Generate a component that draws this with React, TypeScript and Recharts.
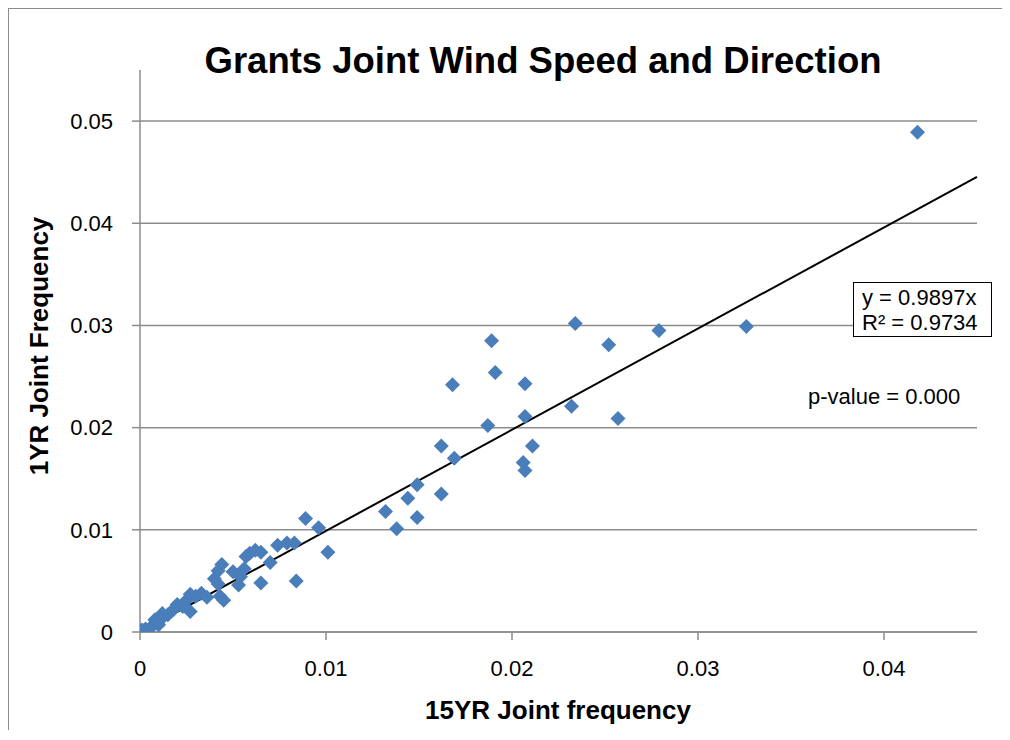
import {
  ScatterChart,
  Scatter,
  XAxis,
  YAxis,
  CartesianGrid,
  ReferenceLine,
} from "recharts";

// 15YR joint frequency (x) vs 1YR joint frequency (y)
const freq15yr = [
  0.0418, 0.0326, 0.0279, 0.0252, 0.0234, 0.0257, 0.0232, 0.0189, 0.0191, 0.0207,
  0.0168, 0.0207, 0.0211, 0.0187, 0.0206, 0.0207, 0.0162, 0.0169, 0.0162, 0.0149,
  0.0144, 0.0132, 0.0149, 0.0138, 0.0089, 0.0096, 0.0101, 0.0084, 0.0083, 0.0079,
  0.0074, 0.0070, 0.0065, 0.0065, 0.0062, 0.0059, 0.0057, 0.0056, 0.0053, 0.0050,
  0.0054, 0.0045, 0.0044, 0.0042, 0.0040, 0.0042, 0.0043, 0.0036, 0.0033, 0.0030,
  0.0027, 0.0025, 0.0027, 0.0023, 0.0020, 0.0018, 0.0015, 0.0012, 0.0011, 0.0010,
  0.0008, 0.0006, 0.0005, 0.0003, 0.0002, 0.0000, 0.0001,
];

const freq1yr = [
  0.0489, 0.0299, 0.0295, 0.0281, 0.0302, 0.0209, 0.0221, 0.0285, 0.0254, 0.0243,
  0.0242, 0.0211, 0.0182, 0.0202, 0.0166, 0.0158, 0.0182, 0.0170, 0.0135, 0.0144,
  0.0131, 0.0118, 0.0112, 0.0101, 0.0111, 0.0102, 0.0078, 0.0050, 0.0087, 0.0087,
  0.0085, 0.0068, 0.0048, 0.0078, 0.0080, 0.0077, 0.0074, 0.0062, 0.0046, 0.0059,
  0.0054, 0.0031, 0.0066, 0.0060, 0.0052, 0.0047, 0.0035, 0.0034, 0.0038, 0.0035,
  0.0037, 0.0031, 0.0020, 0.0025, 0.0027, 0.0022, 0.0017, 0.0018, 0.0012, 0.0007,
  0.0012, 0.0005, 0.0003, 0.0003, 0.0001, 0.0000, 0.0002,
];

const xTicks = [0, 0.01, 0.02, 0.03, 0.04];
const yTicks = [0, 0.01, 0.02, 0.03, 0.04, 0.05];

const slope = 0.9897;
const rSquared = 0.9734;

const data = freq15yr.map((x, i) => ({ x, y: freq1yr[i] }));

const FONT = "'Liberation Sans', Arial, sans-serif";
const GRAY = "#8c8c8c";
const BLUE = "#4A7EBB";

const Diamond = (props: any) => {
  const { cx, cy } = props;
  const r = 7.5;
  return (
    <polygon
      points={`${cx},${cy - r} ${cx + r},${cy} ${cx},${cy + r} ${cx - r},${cy}`}
      fill={BLUE}
    />
  );
};

// gridlines only at the tick values (none at the top edge of the plot)
const gridRows = (props: any) => {
  const scale = props?.yAxis?.scale;
  if (!scale) return [];
  const fn = typeof scale === "function" ? scale : scale.map ?? scale.scale;
  return yTicks.map((t) => fn(t));
};

export default function App() {
  return (
    <div
      style={{
        position: "relative",
        width: 1000,
        height: 722,
        overflow: "hidden",
        background: "#fff",
        fontFamily: FONT,
      }}
    >
      {/* outer chart frame, only left and top edges are in view */}
      <div
        style={{
          position: "absolute",
          left: 0,
          top: 0,
          width: 1000,
          height: 722,
          borderLeft: `1.5px solid ${GRAY}`,
          borderTop: `1.5px solid ${GRAY}`,
          boxSizing: "border-box",
        }}
      />

      <div style={{ position: "absolute", left: 0, top: 0 }}>
        <ScatterChart
          width={1000}
          height={722}
          margin={{ top: 62, right: 31, bottom: 38, left: 72 }}
        >
          <CartesianGrid
            vertical={false}
            horizontalCoordinatesGenerator={gridRows}
            stroke={GRAY}
            strokeWidth={1.5}
          />
          <XAxis
            type="number"
            dataKey="x"
            domain={[0, 0.045]}
            ticks={xTicks}
            height={60}
            tickSize={8}
            tickMargin={20}
            axisLine={{ stroke: GRAY, strokeWidth: 1.5 }}
            tickLine={{ stroke: GRAY, strokeWidth: 1.5 }}
            tick={{ fill: "#000", fontSize: 22, fontFamily: FONT }}
            allowDataOverflow
          />
          <YAxis
            type="number"
            dataKey="y"
            domain={[0, 0.055]}
            ticks={yTicks}
            width={60}
            tickSize={8}
            tickMargin={19}
            axisLine={{ stroke: GRAY, strokeWidth: 1.5 }}
            tickLine={{ stroke: GRAY, strokeWidth: 1.5 }}
            tick={{ fill: "#000", fontSize: 22, fontFamily: FONT }}
            allowDataOverflow
          />
          <Scatter data={data} shape={Diamond} isAnimationActive={false} />
          <ReferenceLine
            segment={[
              { x: 0, y: 0 },
              { x: 0.045, y: 0.045 * slope },
            ]}
            stroke="#000"
            strokeWidth={2}
            ifOverflow="visible"
          />
        </ScatterChart>
      </div>

      {/* titles */}
      <svg
        width={1000}
        height={722}
        style={{ position: "absolute", left: 0, top: 0, pointerEvents: "none" }}
      >
        <text
          x={535}
          y={65}
          textAnchor="middle"
          fontSize={36.5}
          fontWeight="bold"
          fontFamily={FONT}
        >
          Grants Joint Wind Speed and Direction
        </text>
        <text
          x={550}
          y={711}
          textAnchor="middle"
          fontSize={26}
          fontWeight="bold"
          fontFamily={FONT}
        >
          15YR Joint frequency
        </text>
        <text
          x={40}
          y={338}
          textAnchor="middle"
          fontSize={26}
          fontWeight="bold"
          fontFamily={FONT}
          transform="rotate(-90 40 338)"
        >
          1YR Joint Frequency
        </text>
        <text x={800} y={396} fontSize={22} fontFamily={FONT}>
          p-value = 0.000
        </text>
      </svg>

      {/* trendline equation box */}
      <div
        style={{
          position: "absolute",
          left: 845,
          top: 274,
          width: 139,
          height: 55,
          border: "1.5px solid #000",
          background: "#fff",
          fontSize: 22,
          lineHeight: "25px",
          padding: "2px 0 0 8px",
          boxSizing: "border-box",
        }}
      >
        <div>y = {slope}x</div>
        <div>R² = {rSquared}</div>
      </div>
    </div>
  );
}
